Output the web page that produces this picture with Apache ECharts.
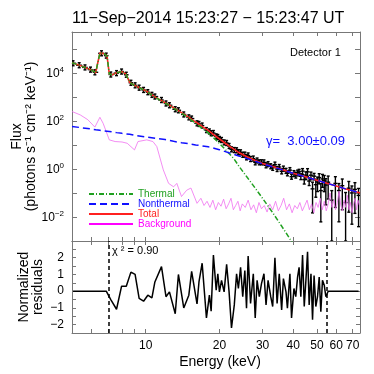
<!DOCTYPE html>
<html>
<head>
<meta charset="utf-8">
<script src="https://cdn.jsdelivr.net/npm/echarts@6/dist/echarts.min.js"></script>
<style>
html,body{margin:0;padding:0;background:#fff}
#chart{width:374px;height:374px}
</style>
</head>
<body>
<div id="chart"></div>
<script>
// observed count spectrum (keV, photons s^-1 cm^-2 keV^-1)
var energy = [5.05, 5.35, 5.65, 5.95, 6.2, 6.6, 6.9, 7.2, 7.6, 7.97, 8.33, 8.7, 9.05, 9.4, 9.8, 10.2, 10.6, 10.9, 11.6, 12.1,
  12.5, 13.2, 13.6, 14.3, 15.0, 15.4, 16.2, 16.5, 17.0, 17.7, 18.2, 18.5, 18.9, 19.4, 19.7, 20.0, 20.4, 20.9, 21.4, 21.9,
  22.4, 23.0, 23.5, 23.9, 24.4, 24.9, 25.4, 25.8, 26.2, 26.8, 27.5, 28.0, 28.5, 29.1, 29.7, 30.4, 31.0, 31.6, 32.4, 33.0,
  33.7, 34.4, 35.1, 35.9, 36.5, 37.4, 37.9, 38.8, 39.4, 40.3, 41.0, 41.7, 42.3, 43.0, 43.7, 44.4, 45.1, 45.8, 46.5, 47.3,
  48.0, 48.7, 49.5, 50.3, 51.1, 51.9, 52.7, 53.6, 54.4, 55.6, 57.5, 59.5, 61.5, 63.5, 65.5, 67.5, 69.5, 71.5, 74.0];
var flux = [2.5e4, 2.07e4, 1.68e4, 1.36e4, 1.05e4, 6.5e4, 5.2e4, 8.5e3, 9.7e3, 1.13e4, 8.3e3, 3.85e3, 3.02e3, 2.41e3, 1.94e3, 1.56e3, 1.21e3, 1.03e3, 738, 530,
  447, 305, 276, 185, 140, 125, 78.9, 74.5, 64.0, 41.3, 36.2, 30.5, 31.2, 22.6, 21.3, 17.7, 16.0, 12.7, 12.0, 9.0,
  6.53, 6.10, 5.96, 4.99, 4.91, 3.87, 3.94, 3.03, 3.63, 2.58, 2.70, 1.88, 2.24, 1.88, 1.89, 1.87, 1.41, 1.58, 1.29, 1.11,
  1.51, 0.99, 1.20, 0.79, 1.03, 0.83, 0.655, 0.89, 0.475, 0.668, 0.571, 0.70, 0.757, 0.493, 0.81, 0.361, 0.555, 0.759, 0.313, 0.547,
  0.148, 0.50, 0.221, 0.286, 0.436, 0.125, 0.382, 0.323, 0.213, 0.28, 0.05, 0.25, 0.126, 0.2, 0.04, 0.158, 0.1, 0.141, 0.079];
var relErr = [0.02, 0.02, 0.02, 0.02, 0.02, 0.02, 0.02, 0.03, 0.03, 0.03, 0.03, 0.03, 0.03, 0.03, 0.03, 0.03, 0.03, 0.03, 0.04, 0.04,
  0.04, 0.04, 0.04, 0.04, 0.04, 0.04, 0.05, 0.05, 0.05, 0.05, 0.05, 0.05, 0.05, 0.05, 0.05, 0.07, 0.07, 0.07, 0.07, 0.07,
  0.07, 0.07, 0.07, 0.09, 0.09, 0.09, 0.09, 0.09, 0.09, 0.09, 0.11, 0.11, 0.11, 0.11, 0.11, 0.11, 0.14, 0.14, 0.14, 0.14,
  0.14, 0.14, 0.2, 0.2, 0.2, 0.2, 0.2, 0.2, 0.2, 0.27, 0.27, 0.27, 0.27, 0.27, 0.27, 0.35, 0.35, 0.35, 0.35, 0.35,
  0.9, 0.3, 0.7, 0.6, 0.45, 0.95, 0.55, 0.65, 0.85, 0.8, 1.5, 0.9, 0.95, 0.9, 1.6, 0.9, 0.95, 0.9, 0.95];
var residual = [0, 0, 0, 0, 0, 0, 0, -0.5, -1.08, 0.3, 0.3, 1.14, 1.0, -0.43, -0.6, -0.24, -0.4, 0.55, 1.47, -0.33,
  -0.04, -1.35, 1.0, -1.0, -0.24, 1.18, -0.76, 0.55, 1.67, -1.6, -0.24, -1.2, 2.16, 0.06, 1.04, -0.04, 0.65, -0.04, 1.6, -0.04,
  -2.2, -0.82, 1.04, 0.16, 1.43, -0.33, 1.24, -1.02, 2.1, -0.73, 1.04, -1.6, 0.65, -0.33, 0.45, 1.04, -0.82, 0.65, -0.33, -0.92,
  2.0, -0.73, 1.04, -1.12, 0.75, -0.04, -1.02, 1.04, -1.6, 0.16, -0.33, 0.84, 1.43, -0.33, 2.16, -0.92, 0.65, 2.35, -0.82, 1.04,
  -1.71, 0.94, -0.92, -0.33, 0.84, -1.22, 0.65, 0.35, -0.33, 0, 0, 0, 0, 0, 0, 0, 0, 0, 0];

// fitted model components
var modelEnergy = [5.0, 5.5, 6.0, 6.25, 6.35, 6.5, 6.75, 6.95, 7.1, 7.3, 7.6, 8.0, 8.3, 8.6, 9.0, 10, 11, 12, 13, 14, 15,
  16, 17, 18, 19, 20, 21, 22, 23, 24, 26, 28, 30, 33, 36, 40, 45, 50, 55, 60, 65, 70, 75];
var thermal = [2.63e4, 1.86e4, 1.32e4, 1.0e4, 2.24e4, 6.61e4, 6.31e4, 5.01e4, 8.91e3, 8.32e3, 1.0e4, 1.12e4, 8.91e3, 3.98e3, 3.02e3, 1.78e3, 933, 550, 339, 209, 129,
  79.4, 50.1, 31.6, 19.1, 11.5, 6.92, 4.17, 2.51, 1.32, 0.437, 0.158, 0.060, 0.0151, 0.0040, 7.6e-4, null, null, null, null, null, null, null];
var nonthermal = [58.9, 51.3, 45.7, 42.7, 41.7, 40.7, 38.0, 37.2, 36.3, 34.7, 32.4, 30.2, 28.8, 27.5, 25.1, 21.4, 18.6, 16.6, 14.1, 12.3, 11.2,
  10.0, 9.12, 8.32, 7.24, 6.31, 5.37, 4.57, 3.98, 3.47, 2.69, 2.09, 1.62, 1.23, 0.933, 0.661, 0.468, 0.339, 0.251, 0.195, 0.151, 0.123, 0.100];
var total = [2.64e4, 1.87e4, 1.32e4, 1.0e4, 2.24e4, 6.61e4, 6.31e4, 5.01e4, 8.95e3, 8.35e3, 1.0e4, 1.12e4, 8.94e3, 4.01e3, 3.05e3, 1.80e3, 952, 567, 353, 221, 140,
  89.4, 59.2, 39.9, 26.3, 17.8, 12.3, 8.74, 6.49, 4.79, 3.13, 2.25, 1.68, 1.25, 0.937, 0.662, 0.468, 0.339, 0.251, 0.195, 0.151, 0.123, 0.100];

// background spectrum
var bkgEnergy = [5.0, 5.4, 5.8, 6.2, 6.5, 6.7, 7.1, 7.5, 8.0, 8.4, 9.0, 9.3, 10.1, 10.7, 11.1, 11.8, 12.4, 13.0, 13.4, 14.0,
  14.7, 15.3, 16.2, 16.8, 17.3, 17.8, 18.3, 18.8, 19.3, 19.8, 20.3, 20.8, 21.3, 21.8, 22.3, 22.8, 23.3, 23.8, 24.3, 24.8,
  25.5, 26.2, 26.9, 27.6, 28.3, 29.0, 29.7, 30.5, 31.3, 32.1, 33.0, 33.9, 34.8, 35.7, 36.6, 37.6, 38.6, 39.6, 40.6, 41.6,
  42.6, 43.6, 44.6, 45.6, 46.6, 47.6, 48.6, 49.6, 50.6, 51.6, 52.6, 53.6, 54.6, 55.6, 56.6, 57.6, 58.6, 59.6, 60.6, 61.6,
  62.6, 63.6, 64.6, 65.6, 66.6, 67.6, 68.6, 69.6, 70.6, 71.6, 72.6, 73.6, 74.6];
var background = [245, 178, 112, 55, 141, 79, 16.2, 13.8, 13.2, 11.7, 6.2, 13.8, 16.2, 13.8, 8.5, 0.91, 0.25, 0.18, 0.25, 0.071,
  0.13, 0.16, 0.037, 0.06, 0.03, 0.045, 0.025, 0.05, 0.02, 0.04, 0.028, 0.055, 0.022, 0.035, 0.06, 0.02, 0.03, 0.045, 0.018, 0.035,
  0.025, 0.05, 0.02, 0.032, 0.015, 0.04, 0.022, 0.03, 0.016, 0.035, 0.02, 0.045, 0.018, 0.03, 0.06, 0.02, 0.035, 0.015, 0.03, 0.022,
  0.04, 0.018, 0.03, 0.05, 0.02, 0.035, 0.015, 0.04, 0.025, 0.06, 0.02, 0.045, 0.018, 0.035, 0.1, 0.025, 0.05, 0.02, 0.04, 0.12,
  0.03, 0.018, 0.05, 0.025, 0.08, 0.02, 0.04, 0.015, 0.035, 0.06, 0.02, 0.05, 0.03];

var fitRange = [7, 55];
var energyRange = [5, 75];
var fluxRange = [1e-3, 5e5];
var residRange = [-2.5, 3];
var energyTicks = [6, 7, 8, 9, 10, 20, 30, 40, 50, 60, 70];
var energyLabels = [10, 20, 30, 40, 50, 60, 70];
var fluxTicks = [1e-2, 1e-1, 1, 10, 1e2, 1e3, 1e4, 1e5];
var fluxLabels = [1e-2, 1, 1e2, 1e4];
var residTicks = [-2, -1.5, -1, -0.5, 0, 0.5, 1, 1.5, 2, 2.5];
var residLabels = [-2, -1, 0, 1, 2];

var FONT = 'Liberation Sans';
var GRAY = '#777';
var GREEN = '#20a020', BLUE = '#1010ff', RED = '#ff2020', MAGENTA = '#ff00ff';

var lg = Math.log10;
function pairs(xs, ys) {
  return xs.map(function (x, i) { return [lg(x), ys[i] == null ? null : lg(ys[i])]; });
}

// error bars: x, lower, upper, left bin edge, right bin edge, y
var yBottom = lg(fluxRange[0]);
var errData = energy.map(function (e, i) {
  var lx = lg(e);
  var left = i > 0 ? (lx + lg(energy[i - 1])) / 2 : lx - (lg(energy[1]) - lx) / 2;
  var right = i < energy.length - 1 ? (lx + lg(energy[i + 1])) / 2 : lx + (lx - lg(energy[i - 1])) / 2;
  var lo = flux[i] * (1 - relErr[i]);
  var lower = lo > 0 ? Math.max(lg(lo), yBottom) : yBottom;
  return [lx, lower, lg(flux[i] * (1 + relErr[i])), left, right, lg(flux[i])];
});

function frameX(grid, pos, labels) {
  return {
    type: 'value', gridIndex: grid, position: pos,
    min: lg(energyRange[0]), max: lg(energyRange[1]),
    axisLine: { show: true, onZero: false, lineStyle: { color: GRAY, width: 1 } },
    axisTick: { show: true, inside: true, length: 4, lineStyle: { color: GRAY }, customValues: energyTicks.map(lg) },
    axisLabel: labels ? {
      show: true, color: '#000', fontSize: 12, fontFamily: FONT, margin: 7,
      customValues: energyLabels.map(lg),
      formatter: function (v) { return String(Math.round(Math.pow(10, v))); }
    } : { show: false },
    splitLine: { show: false }
  };
}

function frameY(grid, pos, range, ticks) {
  return {
    type: 'value', gridIndex: grid, position: pos,
    min: range[0], max: range[1],
    axisLine: { show: true, onZero: false, lineStyle: { color: GRAY } },
    axisTick: { show: true, inside: true, length: 5, lineStyle: { color: GRAY }, customValues: ticks },
    axisLabel: { show: false },
    splitLine: { show: false }
  };
}

function supExp(v) {
  var n = Math.round(v);
  return '{b|10}{s|' + (n < 0 ? '\u2212' + (-n) : n) + '}';
}

var fluxAxis = frameY(0, 'left', fluxRange.map(lg), fluxTicks.map(lg));
fluxAxis.name = 'Flux\n(photons s\u207B\u00B9 cm\u207B\u00B2 keV\u207B\u00B9)';
fluxAxis.nameLocation = 'middle';
fluxAxis.nameRotate = 90;
fluxAxis.nameGap = 34;
fluxAxis.nameMoveOverlap = false;
fluxAxis.nameTextStyle = { fontSize: 14, lineHeight: 14, color: '#000', fontFamily: FONT };
fluxAxis.axisLabel = {
  show: true, margin: 8, customValues: fluxLabels.map(lg), formatter: supExp,
  rich: {
    b: { fontSize: 12, color: '#000', fontFamily: FONT, lineHeight: 14, verticalAlign: 'bottom' },
    s: { fontSize: 8, color: '#000', fontFamily: FONT, lineHeight: 8, verticalAlign: 'top' }
  }
};

var residAxis = frameY(1, 'left', residRange, residTicks);
residAxis.axisTick.length = 4;
residAxis.name = 'Normalized\nresiduals';
residAxis.nameLocation = 'middle';
residAxis.nameRotate = 90;
residAxis.nameGap = 27;
residAxis.nameMoveOverlap = false;
residAxis.nameTextStyle = { fontSize: 14, lineHeight: 14, color: '#000', fontFamily: FONT };
residAxis.axisLabel = {
  show: true, color: '#000', fontSize: 12, fontFamily: FONT, margin: 8,
  customValues: residLabels,
  formatter: function (v) { return v < 0 ? '\u2212' + (-v) : String(v); }
};

var residRight = frameY(1, 'right', residRange, residTicks);
residRight.axisTick.length = 4;

var chart = echarts.init(document.getElementById('chart'), null, { renderer: 'canvas' });
chart.setOption({
  animation: false,
  backgroundColor: '#fff',
  textStyle: { fontFamily: FONT },
  title: {
    text: '11\u2212Sep\u22122014 15:23:27 \u2212 15:23:47 UT',
    left: 72, top: 11, padding: 0,
    textStyle: { fontSize: 16, fontWeight: 'normal', color: '#000', fontFamily: FONT }
  },
  grid: [
    { left: 72, top: 32, width: 288, height: 209, outerBoundsMode: 'none' },
    { left: 72, top: 241, width: 288, height: 92, outerBoundsMode: 'none' }
  ],
  xAxis: [
    frameX(0, 'bottom', false),
    frameX(0, 'top', false),
    Object.assign(frameX(1, 'bottom', true), {
      name: 'Energy (keV)', nameLocation: 'middle', nameGap: 22, nameMoveOverlap: false,
      nameTextStyle: { fontSize: 14, color: '#000', fontFamily: FONT, padding: [0, 0, 0, 8] }
    }),
    frameX(1, 'top', false)
  ],
  yAxis: [
    fluxAxis,
    frameY(0, 'right', fluxRange.map(lg), fluxTicks.map(lg)),
    residAxis,
    residRight
  ],
  legend: {
    orient: 'vertical', left: 88, top: 189, padding: 0, itemGap: 0,
    itemWidth: 44, itemHeight: 8,
    itemStyle: { opacity: 0 },
    lineStyle: { width: 2 },
    textStyle: { fontSize: 10, lineHeight: 10, fontFamily: FONT },
    data: [
      { name: 'Thermal', textStyle: { color: GREEN } },
      { name: 'Nonthermal', textStyle: { color: BLUE } },
      { name: 'Total', textStyle: { color: RED } },
      { name: 'Background', textStyle: { color: MAGENTA }, lineStyle: { color: MAGENTA, width: 2 } }
    ]
  },
  graphic: [
    { type: 'text', left: 290, top: 47, style: { text: 'Detector 1', fontSize: 11, fontFamily: FONT, fill: '#000' } },
    { type: 'text', left: 266, top: 135, style: { text: '\u03B3=  3.00\u00B10.09', fontSize: 13, fontFamily: FONT, fill: BLUE } },
    { type: 'text', left: 112, top: 245, style: { text: '\u03C7 \u00B2 = 0.90', fontSize: 11, fontFamily: FONT, fill: '#000' } }
  ],
  series: [
    {
      type: 'custom', xAxisIndex: 0, yAxisIndex: 0, clip: true, silent: true, z: 1,
      data: errData,
      encode: { x: [0, 3, 4], y: [1, 2, 5] },
      renderItem: function (params, api) {
        var c = api.coord([api.value(0), api.value(5)]);
        var lo = api.coord([api.value(0), api.value(1)]);
        var hi = api.coord([api.value(0), api.value(2)]);
        var l = api.coord([api.value(3), api.value(5)]);
        var r = api.coord([api.value(4), api.value(5)]);
        // plus-shaped marker: never shorter than a small cross
        var y1 = Math.max(lo[1], c[1] + 2.5), y2 = Math.min(hi[1], c[1] - 2.5);
        var x1 = Math.min(l[0], c[0] - 2), x2 = Math.max(r[0], c[0] + 2);
        var st = { stroke: '#000', lineWidth: 1.4 };
        return {
          type: 'group', children: [
            { type: 'line', shape: { x1: c[0], y1: y1, x2: c[0], y2: y2 }, style: st },
            { type: 'line', shape: { x1: x1, y1: c[1], x2: x2, y2: c[1] }, style: st },
            { type: 'line', shape: { x1: c[0] - 1.5, y1: y2, x2: c[0] + 1.5, y2: y2 }, style: st },
            { type: 'line', shape: { x1: c[0] - 1.5, y1: y1, x2: c[0] + 1.5, y2: y1 }, style: st }
          ]
        };
      }
    },
    {
      name: 'Background', type: 'line', xAxisIndex: 0, yAxisIndex: 0, z: 2,
      data: pairs(bkgEnergy, background), symbol: 'none', clip: true,
      lineStyle: { color: '#f070f0', width: 0.8 }, itemStyle: { color: MAGENTA }
    },
    {
      name: 'Total', type: 'line', xAxisIndex: 0, yAxisIndex: 0, z: 3,
      data: pairs(modelEnergy, total), symbol: 'none', clip: true,
      lineStyle: { color: RED, width: 1.6 }, itemStyle: { color: RED }
    },
    {
      name: 'Thermal', type: 'line', xAxisIndex: 0, yAxisIndex: 0, z: 4,
      data: pairs(modelEnergy, thermal), symbol: 'none', clip: true, connectNulls: false,
      lineStyle: { color: GREEN, width: 1.5, type: [5, 2, 1, 2] }, itemStyle: { color: GREEN }
    },
    {
      name: 'Nonthermal', type: 'line', xAxisIndex: 0, yAxisIndex: 0, z: 5,
      data: pairs(modelEnergy, nonthermal), symbol: 'none', clip: true,
      lineStyle: { color: BLUE, width: 1.5, type: [7, 4] }, itemStyle: { color: BLUE }
    },
    {
      type: 'line', xAxisIndex: 2, yAxisIndex: 2, z: 3,
      data: energy.map(function (e, i) { return [lg(e), residual[i]]; }),
      symbol: 'none', clip: true,
      lineStyle: { color: '#000', width: 1.5 },
      markLine: {
        silent: true, symbol: 'none', label: { show: false },
        lineStyle: { color: '#000', width: 1.5, type: [4, 3] },
        data: fitRange.map(function (e) { return { xAxis: lg(e) }; })
      }
    }
  ]
});
</script>
</body>
</html>
